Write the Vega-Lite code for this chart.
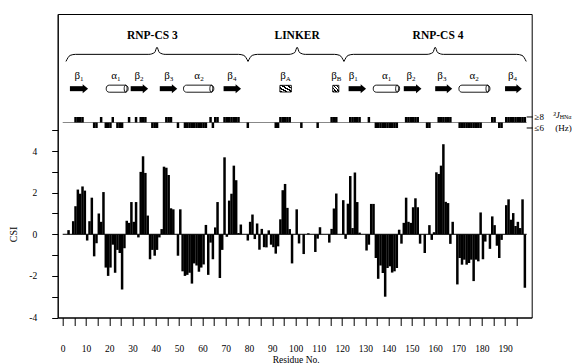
{
  "$schema": "https://vega.github.io/schema/vega-lite/v6.json",
  "width": 474,
  "height": 303.5,
  "autosize": {"type": "none"},
  "padding": {"left": 57.7, "top": 14, "right": 50.3, "bottom": 46.5},
  "background": "white",
  "config": {
    "font": "Liberation Serif",
    "view": {"stroke": "black", "strokeWidth": 1},
    "axis": {"domainColor": "black", "tickColor": "black", "labelColor": "black", "titleColor": "black", "grid": false, "labelFont": "Liberation Serif", "titleFont": "Liberation Serif", "labelOverlap": false, "labelFlush": false},
    "text": {"font": "Liberation Serif", "color": "black"}
  },
  "datasets": {
    "csi": [
      {"res":0,"csi":0},{"res":1,"csi":0},{"res":2,"csi":0.2},{"res":3,"csi":0},{"res":4,"csi":0.63},{"res":5,"csi":1.35},{"res":6,"csi":2.15},{"res":7,"csi":1.95},{"res":8,"csi":2.3},{"res":9,"csi":2.1},
      {"res":10,"csi":-0.3},{"res":11,"csi":0.63},{"res":12,"csi":1.76},{"res":13,"csi":-1.06},{"res":14,"csi":-0.43},{"res":15,"csi":1.0},{"res":16,"csi":0.6},{"res":17,"csi":2.03},{"res":18,"csi":-1.6},{"res":19,"csi":-2.0},
      {"res":20,"csi":-1.6},{"res":21,"csi":-0.5},{"res":22,"csi":-1.85},{"res":23,"csi":-0.75},{"res":24,"csi":-0.9},{"res":25,"csi":-2.65},{"res":26,"csi":-0.67},{"res":27,"csi":0.65},{"res":28,"csi":0.55},{"res":29,"csi":1.55},
      {"res":30,"csi":0.6},{"res":31,"csi":1.55},{"res":32,"csi":-0.15},{"res":33,"csi":3.0},{"res":34,"csi":3.75},{"res":35,"csi":2.95},{"res":36,"csi":0.9},{"res":37,"csi":-1.2},{"res":38,"csi":-0.75},{"res":39,"csi":-1.03},
      {"res":40,"csi":-0.75},{"res":41,"csi":-0.15},{"res":42,"csi":0.25},{"res":43,"csi":3.25},{"res":44,"csi":3.2},{"res":45,"csi":2.85},{"res":46,"csi":1.25},{"res":47,"csi":1.2},{"res":48,"csi":0},{"res":49,"csi":-1.03},
      {"res":50,"csi":1.2},{"res":51,"csi":-1.78},{"res":52,"csi":-2.0},{"res":53,"csi":-1.95},{"res":54,"csi":-1.85},{"res":55,"csi":-2.37},{"res":56,"csi":-1.4},{"res":57,"csi":-1.5},{"res":58,"csi":-1.8},{"res":59,"csi":-1.6},
      {"res":60,"csi":-1.45},{"res":61,"csi":0.45},{"res":62,"csi":-1.95},{"res":63,"csi":-0.4},{"res":64,"csi":-1.2},{"res":65,"csi":0.33},{"res":66,"csi":1.55},{"res":67,"csi":-2.1},{"res":68,"csi":-0.75},{"res":69,"csi":3.7},
      {"res":70,"csi":-0.12},{"res":71,"csi":1.62},{"res":72,"csi":1.95},{"res":73,"csi":3.3},{"res":74,"csi":2.6},{"res":75,"csi":0.06},{"res":76,"csi":0.47},{"res":77,"csi":0},{"res":78,"csi":0},{"res":79,"csi":-0.3},
      {"res":80,"csi":0.6},{"res":81,"csi":0.95},{"res":82,"csi":-0.23},{"res":83,"csi":0.52},{"res":84,"csi":-0.74},{"res":85,"csi":0.26},{"res":86,"csi":-0.62},{"res":87,"csi":-0.63},{"res":88,"csi":0.19},{"res":89,"csi":-0.5},
      {"res":90,"csi":-0.62},{"res":91,"csi":-0.93},{"res":92,"csi":-0.58},{"res":93,"csi":0.72},{"res":94,"csi":2.12},{"res":95,"csi":2.42},{"res":96,"csi":1.27},{"res":97,"csi":0.25},{"res":98,"csi":-1.4},{"res":99,"csi":0},
      {"res":100,"csi":1.2},{"res":101,"csi":-0.44},{"res":102,"csi":0},{"res":103,"csi":-0.95},{"res":104,"csi":0},{"res":105,"csi":0.05},{"res":106,"csi":0},{"res":107,"csi":0},{"res":108,"csi":-0.85},{"res":109,"csi":-0.21},
      {"res":110,"csi":0.34},{"res":111,"csi":0},{"res":112,"csi":0},{"res":113,"csi":0},{"res":114,"csi":-0.4},{"res":115,"csi":0.26},{"res":116,"csi":1.24},{"res":117,"csi":1.96},{"res":118,"csi":0},{"res":119,"csi":0},
      {"res":120,"csi":1.64},{"res":121,"csi":-0.22},{"res":122,"csi":1.47},{"res":123,"csi":2.8},{"res":124,"csi":0.3},{"res":125,"csi":2.97},{"res":126,"csi":1.55},{"res":127,"csi":0.08},{"res":128,"csi":0},{"res":129,"csi":0},
      {"res":130,"csi":-0.78},{"res":131,"csi":-0.5},{"res":132,"csi":1.46},{"res":133,"csi":1.46},{"res":134,"csi":-1.14},{"res":135,"csi":-2.14},{"res":136,"csi":-1.5},{"res":137,"csi":-1.86},{"res":138,"csi":-3.0},{"res":139,"csi":-1.62},
      {"res":140,"csi":-1.54},{"res":141,"csi":-1.84},{"res":142,"csi":-1.78},{"res":143,"csi":-1.62},{"res":144,"csi":0.22},{"res":145,"csi":-0.45},{"res":146,"csi":0.55},{"res":147,"csi":1.76},{"res":148,"csi":0.6},{"res":149,"csi":0.55},
      {"res":150,"csi":1.3},{"res":151,"csi":1.73},{"res":152,"csi":1.3},{"res":153,"csi":-0.45},{"res":154,"csi":0},{"res":155,"csi":-0.9},{"res":156,"csi":0},{"res":157,"csi":0.44},{"res":158,"csi":-0.27},{"res":159,"csi":0.1},
      {"res":160,"csi":2.98},{"res":161,"csi":2.9},{"res":162,"csi":3.3},{"res":163,"csi":4.33},{"res":164,"csi":1.56},{"res":165,"csi":1.5},{"res":166,"csi":-0.46},{"res":167,"csi":0.6},{"res":168,"csi":0},{"res":169,"csi":-2.41},
      {"res":170,"csi":-1.14},{"res":171,"csi":-1.46},{"res":172,"csi":-1.22},{"res":173,"csi":-1.46},{"res":174,"csi":-1.38},{"res":175,"csi":-1.22},{"res":176,"csi":-2.25},{"res":177,"csi":-1.22},{"res":178,"csi":-1.3},{"res":179,"csi":1.05},
      {"res":180,"csi":-1.2},{"res":181,"csi":-0.35},{"res":182,"csi":0},{"res":183,"csi":-0.7},{"res":184,"csi":0.86},{"res":185,"csi":0.44},{"res":186,"csi":-0.55},{"res":187,"csi":-1.14},{"res":188,"csi":-0.27},{"res":189,"csi":0},
      {"res":190,"csi":1.4},{"res":191,"csi":1.68},{"res":192,"csi":0.7},{"res":193,"csi":1.02},{"res":194,"csi":0.4},{"res":195,"csi":0.6},{"res":196,"csi":0.3},{"res":197,"csi":1.68},{"res":198,"csi":-2.57}
    ],
    "jc": [
      {"res":5,"j":"h"},{"res":6,"j":"h"},{"res":7,"j":"h"},{"res":8,"j":"h"},{"res":16,"j":"h"},{"res":21,"j":"h"},{"res":28,"j":"h"},{"res":31,"j":"h"},{"res":33,"j":"h"},{"res":34,"j":"h"},{"res":35,"j":"h"},
      {"res":44,"j":"h"},{"res":45,"j":"h"},{"res":46,"j":"h"},{"res":63,"j":"h"},{"res":65,"j":"h"},{"res":66,"j":"h"},{"res":69,"j":"h"},{"res":70,"j":"h"},{"res":71,"j":"h"},{"res":72,"j":"h"},{"res":73,"j":"h"},{"res":74,"j":"h"},{"res":75,"j":"h"},
      {"res":93,"j":"h"},{"res":94,"j":"h"},{"res":95,"j":"h"},{"res":96,"j":"h"},{"res":97,"j":"h"},{"res":115,"j":"h"},{"res":116,"j":"h"},{"res":117,"j":"h"},
      {"res":123,"j":"h"},{"res":124,"j":"h"},{"res":125,"j":"h"},{"res":126,"j":"h"},{"res":127,"j":"h"},{"res":131,"j":"h"},
      {"res":147,"j":"h"},{"res":148,"j":"h"},{"res":149,"j":"h"},{"res":150,"j":"h"},{"res":151,"j":"h"},{"res":152,"j":"h"},
      {"res":161,"j":"h"},{"res":162,"j":"h"},{"res":163,"j":"h"},{"res":164,"j":"h"},{"res":165,"j":"h"},{"res":166,"j":"h"},{"res":184,"j":"h"},{"res":185,"j":"h"},
      {"res":190,"j":"h"},{"res":191,"j":"h"},{"res":192,"j":"h"},{"res":193,"j":"h"},{"res":194,"j":"h"},{"res":195,"j":"h"},{"res":196,"j":"h"},{"res":197,"j":"h"},{"res":198,"j":"h"},
      {"res":13,"j":"l"},{"res":14,"j":"l"},{"res":18,"j":"l"},{"res":19,"j":"l"},{"res":20,"j":"l"},{"res":23,"j":"l"},{"res":24,"j":"l"},{"res":25,"j":"l"},
      {"res":38,"j":"l"},{"res":39,"j":"l"},{"res":40,"j":"l"},{"res":49,"j":"l"},
      {"res":52,"j":"l"},{"res":53,"j":"l"},{"res":54,"j":"l"},{"res":55,"j":"l"},{"res":56,"j":"l"},{"res":57,"j":"l"},{"res":58,"j":"l"},{"res":59,"j":"l"},{"res":60,"j":"l"},{"res":61,"j":"l"},
      {"res":64,"j":"l"},{"res":79,"j":"l"},{"res":91,"j":"l"},{"res":92,"j":"l"},{"res":102,"j":"l"},{"res":109,"j":"l"},
      {"res":134,"j":"l"},{"res":135,"j":"l"},{"res":136,"j":"l"},{"res":137,"j":"l"},{"res":138,"j":"l"},{"res":139,"j":"l"},{"res":140,"j":"l"},{"res":141,"j":"l"},{"res":142,"j":"l"},{"res":143,"j":"l"},
      {"res":156,"j":"l"},{"res":157,"j":"l"},
      {"res":170,"j":"l"},{"res":171,"j":"l"},{"res":172,"j":"l"},{"res":173,"j":"l"},{"res":174,"j":"l"},{"res":175,"j":"l"},{"res":176,"j":"l"},{"res":177,"j":"l"},{"res":178,"j":"l"},{"res":179,"j":"l"},
      {"res":187,"j":"l"},{"res":188,"j":"l"}
    ],
    "ss": [
      {"kind":"strand","start":3.1,"end":10.9,"lab":7.0,"sym":"β","sub":"1"},
      {"kind":"helix","start":18.7,"end":28.1,"lab":22.9,"sym":"α","sub":"1"},
      {"kind":"strand","start":29.2,"end":36.7,"lab":32.8,"sym":"β","sub":"2"},
      {"kind":"strand","start":41.7,"end":49.2,"lab":45.6,"sym":"β","sub":"3"},
      {"kind":"helix","start":51.9,"end":64.9,"lab":58.6,"sym":"α","sub":"2"},
      {"kind":"strand","start":69.1,"end":76.6,"lab":72.7,"sym":"β","sub":"4"},
      {"kind":"hatch","start":93.3,"end":98.2,"lab":95.4,"sym":"β","sub":"A"},
      {"kind":"hatch","start":116.0,"end":118.6,"lab":117.3,"sym":"β","sub":"B"},
      {"kind":"strand","start":122.8,"end":130.3,"lab":124.8,"sym":"β","sub":"1"},
      {"kind":"helix","start":133.4,"end":144.7,"lab":139.2,"sym":"α","sub":"1"},
      {"kind":"strand","start":146.5,"end":154.1,"lab":149.6,"sym":"β","sub":"2"},
      {"kind":"strand","start":160.0,"end":167.3,"lab":162.9,"sym":"β","sub":"3"},
      {"kind":"helix","start":170.2,"end":183.5,"lab":176.8,"sym":"α","sub":"2"},
      {"kind":"strand","start":190.0,"end":197.2,"lab":193.2,"sym":"β","sub":"4"}
    ],
    "brace": [
      {"b":1,"pos":1.4,"lvl":8.31},{"b":1,"pos":3.2,"lvl":8.6},{"b":1,"pos":5.5,"lvl":8.65},{"b":1,"pos":37.0,"lvl":8.65},{"b":1,"pos":39.5,"lvl":8.74},{"b":1,"pos":40.5,"lvl":8.99},{"b":1,"pos":41.5,"lvl":8.74},{"b":1,"pos":44.0,"lvl":8.65},{"b":1,"pos":75.5,"lvl":8.65},{"b":1,"pos":77.8,"lvl":8.6},{"b":1,"pos":79.6,"lvl":8.31},
      {"b":2,"pos":79.6,"lvl":8.31},{"b":2,"pos":81.4,"lvl":8.6},{"b":2,"pos":83.7,"lvl":8.65},{"b":2,"pos":97.2,"lvl":8.65},{"b":2,"pos":99.7,"lvl":8.74},{"b":2,"pos":100.7,"lvl":8.99},{"b":2,"pos":101.7,"lvl":8.74},{"b":2,"pos":104.2,"lvl":8.65},{"b":2,"pos":116.7,"lvl":8.65},{"b":2,"pos":119.0,"lvl":8.6},{"b":2,"pos":120.8,"lvl":8.31},
      {"b":3,"pos":120.8,"lvl":8.31},{"b":3,"pos":122.6,"lvl":8.6},{"b":3,"pos":124.9,"lvl":8.65},{"b":3,"pos":156.5,"lvl":8.65},{"b":3,"pos":159.0,"lvl":8.74},{"b":3,"pos":160.0,"lvl":8.99},{"b":3,"pos":161.0,"lvl":8.74},{"b":3,"pos":163.5,"lvl":8.65},{"b":3,"pos":195.0,"lvl":8.65},{"b":3,"pos":197.3,"lvl":8.6},{"b":3,"pos":199.1,"lvl":8.31}
    ],
    "dom": [
      {"pos":38.5,"t":"RNP-CS 3"},{"pos":100.7,"t":"LINKER"},{"pos":161.2,"t":"RNP-CS 4"}
    ]
  },
  "layer": [
    {
      "data": {"name": "csi"},
      "mark": {"type": "bar", "orient": "vertical", "width": 2.5, "xOffset": 1.19, "color": "black"},
      "encoding": {
        "x": {"field": "res", "type": "quantitative", "title": "Residue No.",
          "scale": {"domain": [0, 199.3], "nice": false, "zero": false},
          "axis": {"tickCount": 40,
            "tickOpacity": {"condition": {"test": "datum.value > 197", "value": 0}, "value": 1},
            "labelExpr": "datum.value % 10 === 0 && datum.value <= 195 ? toString(datum.value) : ''",
            "tickSize": 8, "labelPadding": 18, "labelFontSize": 9.5, "labelOverlap": false, "labelFlush": false, "labelBound": false,
            "titleFontSize": 9.5, "titleFontWeight": "normal", "titleX": 238, "titleY": 42, "titleBaseline": "middle", "titleAlign": "center"}},
        "y": {"field": "csi", "type": "quantitative", "title": "CSI",
          "scale": {"domain": [-4, 10.59], "nice": false, "zero": false},
          "axis": {"tickCount": 15,
            "tickOpacity": {"condition": {"test": "datum.value > 5", "value": 0}, "value": 1},
            "labelExpr": "datum.value % 2 === 0 && datum.value <= 4 ? toString(datum.value) : ''",
            "tickSize": 6, "labelPadding": 15, "labelFontSize": 9.5, "labelOverlap": false, "labelFlush": false,
            "titleFontSize": 10, "titleFontWeight": "normal", "titleX": -44.7, "titleY": 220, "titleAlign": "center", "titleBaseline": "middle", "titleAngle": -90}}
      }
    },
    {
      "data": {"values": [{}]},
      "mark": {"type": "rule", "color": "black", "strokeWidth": 1},
      "encoding": {"x": {"datum": 0}, "x2": {"datum": 199.3}, "y": {"datum": 0}}
    },
    {
      "data": {"values": [{}]},
      "mark": {"type": "rule", "color": "#888888", "strokeWidth": 1.2},
      "encoding": {"x": {"datum": 0}, "x2": {"datum": 199.3}, "y": {"datum": 5.375}}
    },
    {
      "data": {"name": "jc"},
      "transform": [{"filter": "datum.j === 'h'"}],
      "mark": {"type": "bar", "orient": "vertical", "width": 2.5, "xOffset": 1.19, "color": "black"},
      "encoding": {"x": {"field": "res", "type": "quantitative"}, "y": {"datum": 5.375}, "y2": {"datum": 5.64}}
    },
    {
      "data": {"name": "jc"},
      "transform": [{"filter": "datum.j === 'l'"}],
      "mark": {"type": "bar", "orient": "vertical", "width": 2.5, "xOffset": 1.19, "color": "black"},
      "encoding": {"x": {"field": "res", "type": "quantitative"}, "y": {"datum": 5.11}, "y2": {"datum": 5.375}}
    },
    {
      "data": {"name": "ss"},
      "transform": [{"filter": "datum.kind === 'strand'"}],
      "mark": {"type": "rect", "color": "black", "x2Offset": -4.5},
      "encoding": {"x": {"field": "start", "type": "quantitative"}, "x2": {"field": "end"}, "y": {"datum": 6.88}, "y2": {"datum": 7.12}}
    },
    {
      "data": {"name": "ss"},
      "transform": [{"filter": "datum.kind === 'strand'"}],
      "mark": {"type": "point", "shape": "M-0.6,-1L0.6,0L-0.6,1Z", "filled": true, "color": "black", "opacity": 1, "size": 81, "xOffset": -2.7},
      "encoding": {"x": {"field": "end", "type": "quantitative"}, "y": {"datum": 7.0}}
    },
    {
      "data": {"name": "ss"},
      "transform": [{"filter": "datum.kind === 'helix'"}],
      "mark": {"type": "rect", "fill": "white", "stroke": "black", "strokeWidth": 0.9, "cornerRadius": 3},
      "encoding": {"x": {"field": "start", "type": "quantitative"}, "x2": {"field": "end"}, "y": {"datum": 6.83}, "y2": {"datum": 7.17}}
    },
    {
      "data": {"name": "ss"},
      "transform": [{"filter": "datum.kind === 'helix'"}],
      "mark": {"type": "point", "shape": "M0,-1C0.55,-1 0.55,1 0,1C-0.55,1 -0.55,-1 0,-1Z", "filled": false, "color": "black", "opacity": 1, "strokeWidth": 0.9, "size": 49, "xOffset": -2.5},
      "encoding": {"x": {"field": "end", "type": "quantitative"}, "y": {"datum": 7.0}}
    },
    {
      "data": {"name": "ss"},
      "transform": [{"filter": "datum.kind === 'hatch'"}],
      "mark": {"type": "rect", "stroke": "black", "strokeWidth": 0.9,
        "fill": {"gradient": "linear", "x1": 0, "y1": 1, "x2": 1, "y2": 0, "stops": [
          {"offset": 0, "color": "black"}, {"offset": 0.12, "color": "black"}, {"offset": 0.12, "color": "white"}, {"offset": 0.25, "color": "white"},
          {"offset": 0.25, "color": "black"}, {"offset": 0.37, "color": "black"}, {"offset": 0.37, "color": "white"}, {"offset": 0.5, "color": "white"},
          {"offset": 0.5, "color": "black"}, {"offset": 0.62, "color": "black"}, {"offset": 0.62, "color": "white"}, {"offset": 0.75, "color": "white"},
          {"offset": 0.75, "color": "black"}, {"offset": 0.87, "color": "black"}, {"offset": 0.87, "color": "white"}, {"offset": 1, "color": "white"}]}},
      "encoding": {"x": {"field": "start", "type": "quantitative"}, "x2": {"field": "end"}, "y": {"datum": 6.84}, "y2": {"datum": 7.16}}
    },
    {
      "data": {"name": "ss"},
      "mark": {"type": "text", "align": "right", "baseline": "middle", "dx": 1, "fontSize": 11},
      "encoding": {"x": {"field": "lab", "type": "quantitative"}, "y": {"datum": 7.61}, "text": {"field": "sym"}}
    },
    {
      "data": {"name": "ss"},
      "mark": {"type": "text", "align": "left", "baseline": "middle", "dx": 1, "dy": 3, "fontSize": 7},
      "encoding": {"x": {"field": "lab", "type": "quantitative"}, "y": {"datum": 7.61}, "text": {"field": "sub"}}
    },
    {
      "data": {"name": "brace"},
      "mark": {"type": "line", "color": "black", "strokeWidth": 1, "interpolate": "monotone"},
      "encoding": {"x": {"field": "pos", "type": "quantitative"}, "y": {"field": "lvl", "type": "quantitative"}, "detail": {"field": "b"}}
    },
    {
      "data": {"name": "dom"},
      "mark": {"type": "text", "align": "center", "baseline": "middle", "fontSize": 11.5, "fontWeight": "bold"},
      "encoding": {"x": {"field": "pos", "type": "quantitative"}, "y": {"datum": 9.54}, "text": {"field": "t"}}
    },
    {
      "data": {"values": [{}]},
      "mark": {"type": "rule", "color": "black", "strokeWidth": 1, "x2Offset": 6},
      "encoding": {"x": {"datum": 199.3}, "x2": {"datum": 199.3}, "y": {"datum": 5.64}}
    },
    {
      "data": {"values": [{}]},
      "mark": {"type": "rule", "color": "black", "strokeWidth": 1, "x2Offset": 6},
      "encoding": {"x": {"datum": 199.3}, "x2": {"datum": 199.3}, "y": {"datum": 5.11}}
    },
    {
      "data": {"values": [{}]},
      "mark": {"type": "text", "align": "center", "baseline": "middle", "fontSize": 9, "dx": 12.6},
      "encoding": {"x": {"datum": 199.3}, "y": {"datum": 5.64}, "text": {"value": "≥8"}}
    },
    {
      "data": {"values": [{}]},
      "mark": {"type": "text", "align": "center", "baseline": "middle", "fontSize": 9, "dx": 12.6},
      "encoding": {"x": {"datum": 199.3}, "y": {"datum": 5.11}, "text": {"value": "≤6"}}
    },
    {
      "data": {"values": [{}]},
      "mark": {"type": "text", "align": "right", "baseline": "middle", "fontSize": 9, "fontStyle": "italic", "dx": 33},
      "encoding": {"x": {"datum": 199.3}, "y": {"datum": 5.72}, "text": {"value": "³J"}}
    },
    {
      "data": {"values": [{}]},
      "mark": {"type": "text", "align": "left", "baseline": "middle", "fontSize": 6, "dx": 33, "dy": 2},
      "encoding": {"x": {"datum": 199.3}, "y": {"datum": 5.72}, "text": {"value": "HNα"}}
    },
    {
      "data": {"values": [{}]},
      "mark": {"type": "text", "align": "center", "baseline": "middle", "fontSize": 9, "dx": 36.9},
      "encoding": {"x": {"datum": 199.3}, "y": {"datum": 5.11}, "text": {"value": "(Hz)"}}
    }
  ]
}
